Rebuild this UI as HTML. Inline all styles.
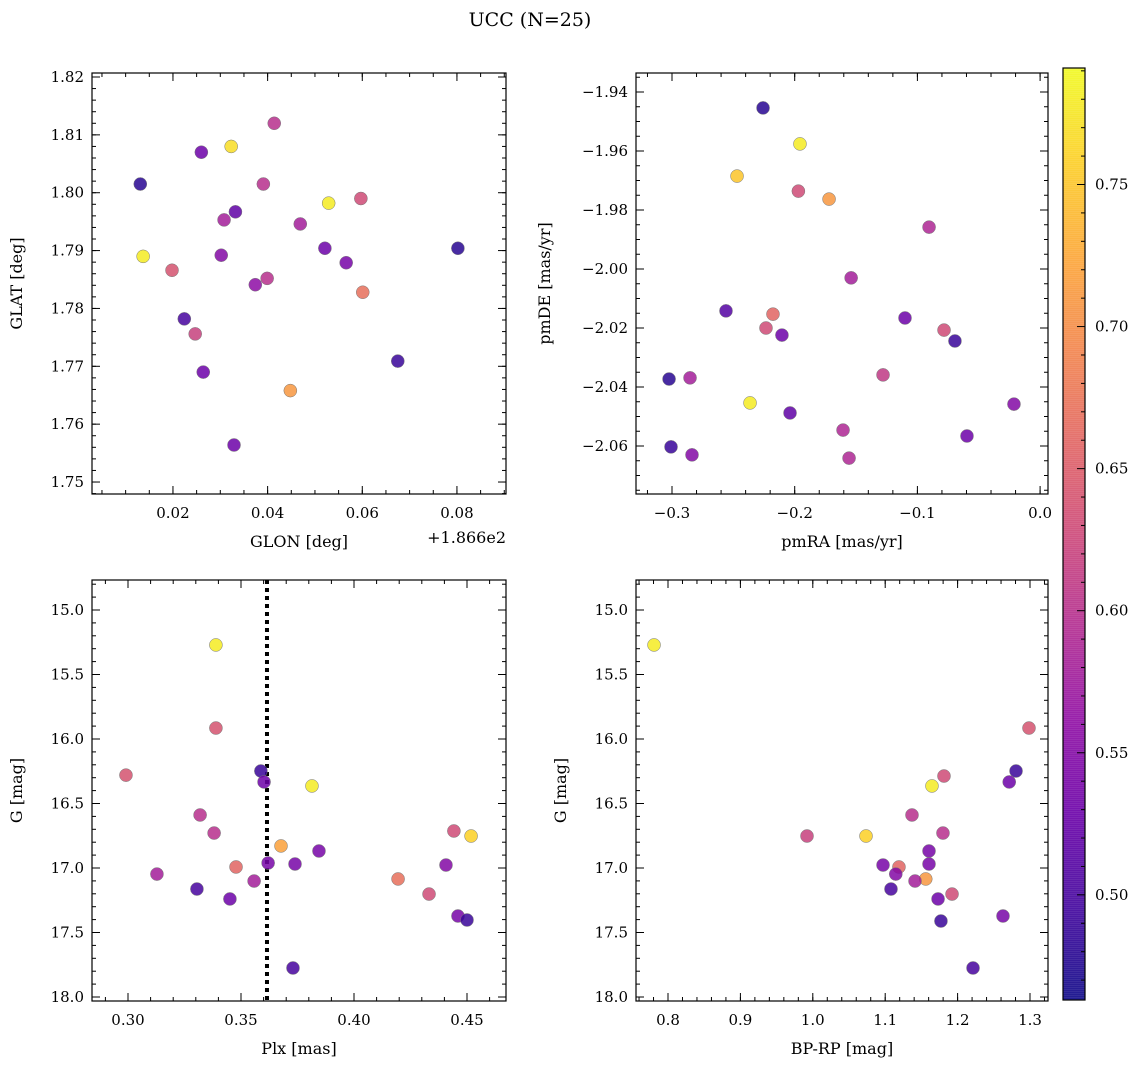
<!DOCTYPE html>
<html><head><meta charset="utf-8"><style>
html,body{margin:0;padding:0;background:#fff;}
svg{display:block;font-family:"DejaVu Serif","Liberation Serif",serif;}
</style></head><body>
<svg id="fig" width="1148" height="1068" viewBox="0 0 1148 1068">
<text x="530" y="26" font-size="19" text-anchor="middle">UCC (N=25)</text>
</svg>
<script>
// Panel 1: GLON offset (from 186.6) vs GLAT
const p1x=[.0131,.026,.0323,.0414,.0137,.0198,.0308,.0332,.0391,.0469,.0529,.0597,.0302,.0374,.0399,.0521,.0566,.0601,.0802,.0224,.0247,.0264,.0448,.0675,.0329];
const p1y=[1.8015,1.807,1.808,1.812,1.789,1.7866,1.7953,1.7967,1.8015,1.7946,1.7982,1.799,1.7892,1.7841,1.7852,1.7904,1.7879,1.7828,1.7904,1.7782,1.7756,1.769,1.7658,1.7709,1.7564];
const p1c=[.48,.53,.77,.60,.78,.64,.58,.52,.60,.58,.78,.63,.55,.56,.60,.53,.54,.67,.48,.50,.62,.53,.71,.49,.53];
// Panel 2: pmRA vs pmDE
const p2x=[-.2258,-.1957,-.247,-.197,-.172,-.0905,-.154,-.256,-.2177,-.2234,-.2104,-.1101,-.0783,-.0694,-.3024,-.2853,-.2364,-.128,-.2038,-.0213,-.0596,-.1606,-.3008,-.2837,-.1557];
const p2y=[-1.9454,-1.9576,-1.9685,-1.9736,-1.9763,-1.9858,-2.003,-2.0142,-2.0153,-2.02,-2.0224,-2.0166,-2.0207,-2.0244,-2.0373,-2.0369,-2.0454,-2.0359,-2.0488,-2.0458,-2.0566,-2.0546,-2.0603,-2.063,-2.0641];
const p2c=[.48,.78,.75,.63,.71,.59,.58,.51,.66,.63,.53,.53,.63,.49,.48,.58,.78,.61,.52,.55,.53,.59,.49,.55,.59];
// Panel 3: Plx vs G
const p3x=[.3389,.3389,.2991,.3588,.3602,.3814,.3319,.3381,.3677,.3845,.4442,.4518,.362,.3739,.3478,.4407,.3128,.3558,.4195,.3305,.4332,.3451,.446,.45,.373];
const p3y=[15.271,15.915,16.28,16.248,16.333,16.364,16.589,16.729,16.829,16.868,16.713,16.752,16.961,16.969,16.992,16.977,17.047,17.101,17.085,17.163,17.202,17.24,17.372,17.403,17.775];
const p3c=[.78,.64,.64,.49,.53,.78,.60,.60,.72,.54,.63,.76,.54,.54,.66,.55,.58,.58,.67,.50,.63,.53,.54,.49,.50];
const plxLine=0.3615;
// Panel 4: BP-RP vs G
const p4x=[.7807,1.2986,1.2807,1.1812,1.2713,1.1646,1.137,1.1798,.992,1.0735,1.1605,1.097,1.1605,1.119,1.1146,1.156,1.1412,1.108,1.1923,1.173,1.2627,1.177,1.2213];
const p4y=[15.271,15.915,16.248,16.287,16.333,16.364,16.589,16.729,16.752,16.752,16.868,16.977,16.969,16.992,17.047,17.085,17.101,17.163,17.202,17.24,17.372,17.411,17.775];
const p4c=[.78,.64,.49,.63,.53,.78,.60,.60,.62,.76,.54,.54,.54,.66,.55,.71,.58,.50,.63,.53,.54,.49,.50];

const NS='http://www.w3.org/2000/svg';
const svg=document.getElementById('fig');
function mk(t,a,p){const e=document.createElementNS(NS,t);for(const k in a)e.setAttribute(k,a[k]);(p||svg).appendChild(e);return e;}
const stops=['#0d0887','#41049d','#6a00a8','#8f0da4','#b12a90','#cc4778','#e16462','#f2844b','#fca636','#fcce25','#f0f921'];
function hx(h){return [1,3,5].map(i=>parseInt(h.substr(i,2),16));}
const CMIN=0.463,CMAX=0.791;
function cmap(v){let t=(v-CMIN)/(CMAX-CMIN);t=Math.max(0,Math.min(1,t));const f=t*10,i=Math.min(9,Math.floor(f)),r=f-i;const a=hx(stops[i]),b=hx(stops[i+1]);return 'rgb('+a.map((x,k)=>Math.round(x+(b[k]-x)*r)).join(',')+')';}
function ticks(a,b,step){const lo=Math.min(a,b),hi=Math.max(a,b),eps=1e-9,r=[];const n0=Math.ceil((lo-eps)/step),n1=Math.floor((hi+eps)/step);for(let n=n0;n<=n1;n++)r.push(+(n*step).toFixed(6));return r;}

function panel(o){
  const g=mk('g',{});
  
  
  const sx=v=>o.x0+(v-o.xa)/(o.xb-o.xa)*(o.x1-o.x0);
  const sy=v=>o.y1-(v-o.ya)/(o.yb-o.ya)*(o.y1-o.y0);
  if(o.extra)o.extra(g,sx,sy);
  o.xs.forEach((xv,i)=>{const c=mk('circle',{cx:sx(xv),cy:sy(o.ys[i]),r:6.5,fill:cmap(o.cs[i]),'fill-opacity':0.85,stroke:'#777','stroke-width':0.5},g);
    
    });
  ticks(o.xa,o.xb,o.xmin).forEach(v=>{const x=sx(v);mk('line',{x1:x,x2:x,y1:o.y1,y2:o.y1-4,stroke:'#000'},g);mk('line',{x1:x,x2:x,y1:o.y0,y2:o.y0+4,stroke:'#000'},g);});
  ticks(o.ya,o.yb,o.ymin).forEach(v=>{const y=sy(v);mk('line',{x1:o.x0,x2:o.x0+4,y1:y,y2:y,stroke:'#000'},g);mk('line',{x1:o.x1,x2:o.x1-4,y1:y,y2:y,stroke:'#000'},g);});
  ticks(o.xa,o.xb,o.xmaj).forEach(v=>{const x=sx(v);mk('line',{x1:x,x2:x,y1:o.y1,y2:o.y1-8,stroke:'#000'},g);mk('line',{x1:x,x2:x,y1:o.y0,y2:o.y0+8,stroke:'#000'},g);
    const t=mk('text',{x:x,y:o.y1+24,'font-size':15,'text-anchor':'middle'},g);t.textContent=o.xf(v).replace('-','\u2212');
    
    });
  ticks(o.ya,o.yb,o.ymaj).forEach(v=>{const y=sy(v);mk('line',{x1:o.x0,x2:o.x0+8,y1:y,y2:y,stroke:'#000'},g);mk('line',{x1:o.x1,x2:o.x1-8,y1:y,y2:y,stroke:'#000'},g);
    const t=mk('text',{x:o.x0-8,y:y+5,'font-size':15,'text-anchor':'end'},g);t.textContent=o.yf(v).replace('-','\u2212');
    
    });
  mk('rect',{x:o.x0,y:o.y0,width:o.x1-o.x0,height:o.y1-o.y0,fill:'none',stroke:'#000','stroke-width':1.2},g);
  const xl=mk('text',{x:(o.x0+o.x1)/2,y:o.y1+53,'font-size':16,'text-anchor':'middle'},g);xl.textContent=o.xl;
  
  
  const yx=o.ylx,yy=(o.y0+o.y1)/2;
  const yl=mk('text',{x:yx,y:yy,'font-size':16,'text-anchor':'middle',transform:'rotate(-90 '+yx+' '+yy+')'},g);yl.textContent=o.yl;
  
  
}
const f2=v=>v.toFixed(2),f1=v=>v.toFixed(1);
panel({name:'glon-glat-panel',x0:92,x1:506,y0:73,y1:494,xa:(92-78.3)/4733,xb:(506-78.3)/4733,ya:1.82-(494-77)/5786,yb:1.82+4/5786,
  xs:p1x,ys:p1y,cs:p1c,xmaj:.02,xmin:.005,ymaj:.01,ymin:.002,xf:f2,yf:f2,xl:'GLON [deg]',yl:'GLAT [deg]',ylx:22});
panel({name:'pm-panel',x0:636,x1:1048,y0:73,y1:494,xa:-.3-36/1227,xb:-.3+376/1227,ya:-1.94-402/2950,yb:-1.94+19/2950,
  xs:p2x,ys:p2y,cs:p2c,xmaj:.1,xmin:.02,ymaj:.02,ymin:.005,xf:f1,yf:f2,xl:'pmRA [mas/yr]',yl:'pmDE [mas/yr]',ylx:550});
panel({name:'plx-g-panel',x0:92,x1:506,y0:580,y1:1001,xa:.3-36/2260,xb:.3+378/2260,ya:15+391/129,yb:15-30/129,
  xs:p3x,ys:p3y,cs:p3c,xmaj:.05,xmin:.01,ymaj:.5,ymin:.1,xf:f2,yf:f1,xl:'Plx [mas]',yl:'G [mag]',ylx:22,
  extra:(g,sx,sy)=>{const l=mk('line',{x1:sx(plxLine),x2:sx(plxLine),y1:580,y2:1001,stroke:'#000','stroke-width':4,'stroke-dasharray':'4 4'},g);
    
    }});
panel({name:'color-g-panel',x0:636,x1:1048,y0:580,y1:1001,xa:.8-32/724,xb:.8+380/724,ya:15+391/129,yb:15-30/129,
  xs:p4x,ys:p4y,cs:p4c,xmaj:.1,xmin:.02,ymaj:.5,ymin:.1,xf:f1,yf:f1,xl:'BP-RP [mag]',yl:'G [mag]',ylx:566});
(function(){
 const g=mk('g',{});
 
 
 const x0=1063,x1=1085,y0=68,y1=1000;
 for(let y=y0;y<y1;y+=2){const v=CMAX-(y-y0)/(y1-y0)*(CMAX-CMIN);mk('rect',{x:x0,y:y,width:x1-x0,height:2.5,fill:cmap(v),'fill-opacity':0.85},g);}
 mk('rect',{x:x0,y:y0,width:x1-x0,height:y1-y0,fill:'none',stroke:'#000','stroke-width':1.2},g);
 const sy=v=>y0+(CMAX-v)/(CMAX-CMIN)*(y1-y0);
 for(let k=47;k<=79;k++){const v=k/100,y=sy(v);const maj=k%5==0;mk('line',{x1:x1,x2:x1-(maj?8:4),y1:y,y2:y,stroke:'#000'},g);
  if(maj){const t=mk('text',{x:x1+10,y:y+5,'font-size':15},g);t.textContent=v.toFixed(2);
   
   }}
 const off=mk('text',{x:506,y:543,'font-size':16,'text-anchor':'end'});off.textContent='+1.866e2';
 
 
})();
</script>
</body></html>
